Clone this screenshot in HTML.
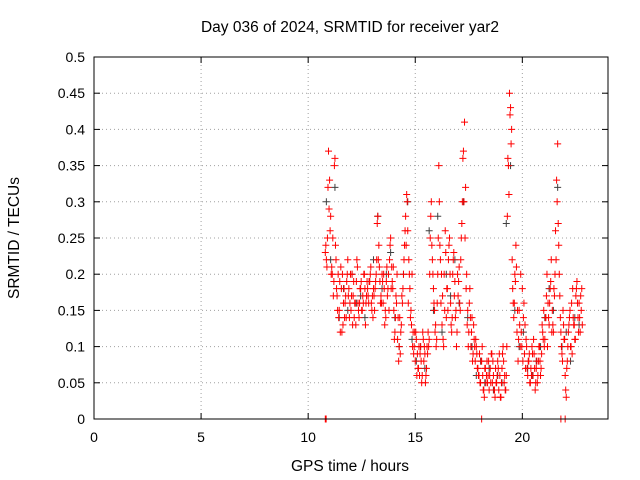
<!DOCTYPE html>
<html><head><meta charset="utf-8">
<style>
html,body{margin:0;padding:0;background:#fff;}
svg{display:block;font-family:"Liberation Sans",sans-serif;}
</style></head>
<body>
<svg id="chart" width="640" height="480">
<text x="350" y="32" font-size="15.5" text-anchor="middle">Day 036 of 2024, SRMTID for receiver yar2</text>
<text x="350" y="471" font-size="15.5" text-anchor="middle">GPS time / hours</text>
<text transform="translate(19,238) rotate(-90)" font-size="15.5" text-anchor="middle">SRMTID / TECUs</text>
<g id="grid"></g>
<g id="ticks"></g>
<g id="marks"></g>
<rect x="94" y="57" width="514" height="362" fill="none" stroke="#000" stroke-width="1"/>
</svg>
<script>
const xTicks=[0,5,10,15,20];
const yTicks=[0,0.05,0.1,0.15,0.2,0.25,0.3,0.35,0.4,0.45,0.5];
const yTickLabels=["0","0.05","0.1","0.15","0.2","0.25","0.3","0.35","0.4","0.45","0.5"];
const redStart=10.8, redStep=0.05;
const redValues=[0.23,0.22,0.25,0.37,0.33,0.28,0.21,0.25,0.19,0.36,0.22,0.17,0.2,0.15,0.12,0.18,0.2,0.16,0.14,0.17,
0.19,0.22,0.18,0.16,0.15,0.2,0.17,0.14,0.16,0.19,0.21,0.15,0.16,0.18,0.15,0.17,0.2,0.18,0.16,0.19,
0.17,0.19,0.2,0.16,0.17,0.18,0.15,0.19,0.22,0.28,0.24,0.19,0.17,0.2,0.16,0.18,0.15,0.19,0.17,0.2,
0.22,0.25,0.21,0.18,0.15,0.12,0.17,0.2,0.14,0.1,0.09,0.13,0.16,0.2,0.24,0.28,0.31,0.26,0.22,0.18,
0.15,0.2,0.12,0.1,0.08,0.11,0.09,0.07,0.06,0.1,0.05,0.12,0.08,0.09,0.06,0.1,0.12,0.11,0.25,0.3,
0.22,0.18,0.15,0.13,0.11,0.2,0.35,0.24,0.16,0.13,0.11,0.2,0.26,0.14,0.18,0.22,0.25,0.16,0.12,0.2,
0.23,0.19,0.15,0.12,0.17,0.21,0.15,0.25,0.3,0.37,0.41,0.32,0.2,0.15,0.12,0.18,0.1,0.14,0.09,0.11,
0.08,0.1,0.07,0.06,0.09,0.05,0.08,0.06,0.04,0.07,0.05,0.08,0.06,0.04,0.07,0.09,0.05,0.06,0.04,0.07,
0.05,0.08,0.04,0.06,0.03,0.07,0.1,0.05,0.04,0.06,0.28,0.35,0.45,0.43,0.4,0.18,0.14,0.2,0.24,0.12,
0.08,0.15,0.1,0.12,0.18,0.14,0.09,0.07,0.1,0.06,0.08,0.05,0.07,0.1,0.06,0.09,0.04,0.07,0.05,0.08,
0.1,0.06,0.09,0.12,0.15,0.11,0.14,0.2,0.16,0.13,0.18,0.22,0.15,0.12,0.17,0.26,0.33,0.38,0.24,0.17,
0.12,0.09,0.15,0.11,0.06,0.03,0.08,0.12,0.14,0.1,0.16,0.18,0.13,0.11,0.17,0.19,0.14,0.16,0.12,0.15,0.13];
const red2Start=10.825, red2Step=0.1;
const red2Values=[0.24,0.32,0.26,0.2,0.35,0.18,0.14,0.21,0.13,0.16,
0.2,0.14,0.17,0.19,0.13,0.16,0.18,0.15,0.2,0.17,
0.16,0.21,0.14,0.18,0.27,0.21,0.16,0.2,0.14,0.18,
0.24,0.19,0.11,0.16,0.08,0.12,0.18,0.26,0.3,0.2,
0.13,0.09,0.12,0.07,0.09,0.06,0.1,0.07,0.1,0.28,
0.2,0.12,0.16,0.3,0.2,0.1,0.23,0.15,0.2,0.14,
0.17,0.1,0.19,0.22,0.36,0.25,0.13,0.16,0.12,0.13,
0.11,0.07,0.05,0.1,0.03,0.06,0.08,0.05,0.08,0.03,
0.06,0.09,0.05,0.08,0.04,0.36,0.42,0.22,0.16,0.21,
0.11,0.2,0.08,0.13,0.07,0.09,0.06,0.11,0.05,0.06,
0.08,0.13,0.1,0.17,0.14,0.19,0.13,0.2,0.3,0.2,
0.1,0.13,0.04,0.1,0.15,0.09,0.13,0.18,0.12,0.17];
const red3Start=10.875, red3Step=0.1;
const red3Values=[0.21,0.29,0.2,0.17,0.24,0.15,0.19,0.12,0.18,0.14,
0.17,0.2,0.13,0.16,0.22,0.14,0.19,0.16,0.13,0.18,
0.19,0.15,0.17,0.2,0.22,0.16,0.19,0.13,0.21,0.15,
0.18,0.21,0.14,0.11,0.14,0.17,0.22,0.24,0.16,0.14,
0.1,0.12,0.06,0.1,0.08,0.11,0.05,0.09,0.2,0.24,
0.16,0.1,0.25,0.22,0.17,0.15,0.18,0.24,0.13,0.22,
0.14,0.2,0.16,0.27,0.3,0.18,0.1,0.14,0.08,0.1,
0.09,0.06,0.08,0.04,0.07,0.05,0.06,0.09,0.04,0.05,
0.07,0.03,0.09,0.06,0.1,0.31,0.38,0.16,0.19,0.15,
0.13,0.1,0.16,0.11,0.08,0.05,0.09,0.07,0.08,0.1,
0.07,0.11,0.14,0.1,0.16,0.12,0.18,0.22,0.27,0.14,
0.08,0.11,0.07,0.13,0.1,0.14,0.11,0.16,0.14,0.18];
const blackStart=10.85, blackStep=0.2;
const blackValues=[0.3,0.22,0.32,0.14,0.18,0.15,0.2,0.16,0.17,0.14,0.19,0.22,0.28,0.18,0.2,
0.23,0.14,0.1,0.2,0.3,0.11,0.08,0.1,0.07,0.26,0.15,0.28,0.12,0.2,0.17,
0.22,0.16,0.3,0.14,0.1,0.06,0.08,0.05,0.07,0.04,0.06,0.05,0.27,0.35,0.15,
0.1,0.12,0.07,0.06,0.08,0.1,0.14,0.18,0.15,0.32,0.1,0.12,0.08,0.14,0.13];
const zeroTimes=[10.8,10.82,10.84,18.1,21.8,22.0];

const X0=94,X1=608,Y0=419,Y1=57;
const xScale=t=>X0+(t/24)*(X1-X0);
const yScale=v=>Y0-(v/0.5)*(Y0-Y1);
const NS="http://www.w3.org/2000/svg";
const grid=document.getElementById('grid'),ticks=document.getElementById('ticks'),marks=document.getElementById('marks');
function mk(tag,attrs,parent){const e=document.createElementNS(NS,tag);for(const k in attrs)e.setAttribute(k,attrs[k]);parent.appendChild(e);return e;}
xTicks.forEach(t=>{
  const x=xScale(t);
  if(t>0){const g=mk('line',{x1:x,x2:x,y1:Y1,y2:Y0,stroke:'#a0a0a0','stroke-dasharray':'1,3'},grid);
  
  }
  mk('line',{x1:x,x2:x,y1:Y0,y2:Y0-6,stroke:'#000'},ticks);
  mk('line',{x1:x,x2:x,y1:Y1,y2:Y1+6,stroke:'#000'},ticks);
  const l=mk('text',{x:x,y:Y0+23,'font-size':14,'text-anchor':'middle'},ticks);l.textContent=String(t);
  
  
});
yTicks.forEach((v,i)=>{
  const y=yScale(v);
  if(i>0&&i<yTicks.length-1){const g=mk('line',{x1:X0,x2:X1,y1:y,y2:y,stroke:'#a0a0a0','stroke-dasharray':'1,3'},grid);
  
  }
  mk('line',{x1:X0,x2:X0+6,y1:y,y2:y,stroke:'#000'},ticks);
  mk('line',{x1:X1,x2:X1-6,y1:y,y2:y,stroke:'#000'},ticks);
  const l=mk('text',{x:X0-9,y:y+5,'font-size':14,'text-anchor':'end'},ticks);l.textContent=yTickLabels[i];
  
  
});
function plus(t,v,color,name){
  const x=xScale(t),y=yScale(v);
  const p=mk('path',{d:`M${x-3.5},${y}h7M${x},${y-3.5}v7`,stroke:color,'stroke-width':1,fill:'none'},marks);
  
  
}
blackValues.forEach((v,i)=>plus(blackStart+i*blackStep,v,'#404040','point-black'));
redValues.forEach((v,i)=>plus(redStart+i*redStep,v,'#ff0000','point-red'));
red2Values.forEach((v,i)=>plus(red2Start+i*red2Step,v,'#ff0000','point-red'));
red3Values.forEach((v,i)=>plus(red3Start+i*red3Step,v,'#ff0000','point-red'));
zeroTimes.forEach(t=>plus(t,0,'#ff0000','point-zero'));
</script>
</body></html>
